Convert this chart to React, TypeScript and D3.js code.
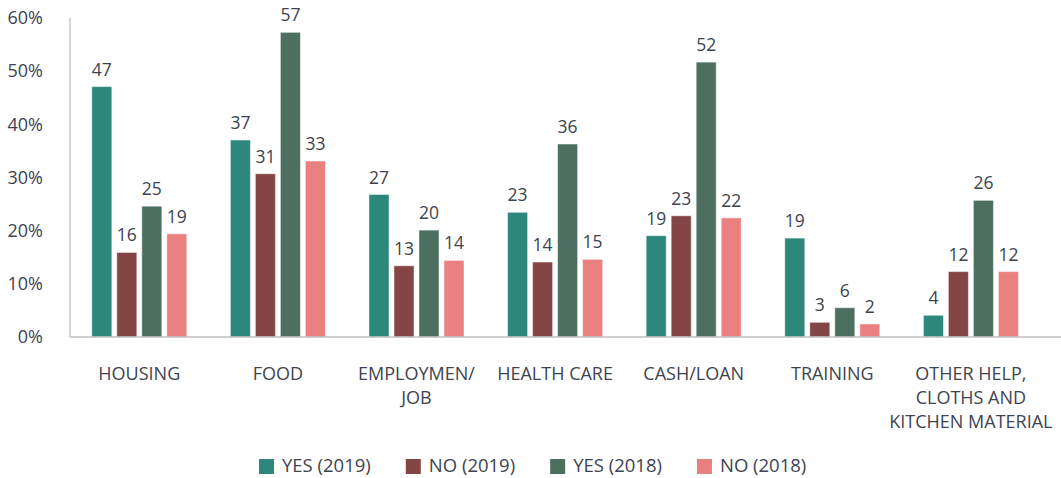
import React, { useEffect, useRef } from "react";
import * as d3 from "d3";

const categories = ["HOUSING", "FOOD", "EMPLOYMEN/ JOB", "HEALTH CARE", "CASH/LOAN", "TRAINING", "OTHER HELP, CLOTHS AND KITCHEN MATERIAL"];
const categoryLines = [["HOUSING"], ["FOOD"], ["EMPLOYMEN/", "JOB"], ["HEALTH CARE"], ["CASH/LOAN"], ["TRAINING"], ["OTHER HELP,", "CLOTHS AND", "KITCHEN MATERIAL"]];
const seriesNames = ["YES (2019)", "NO (2019)", "YES (2018)", "NO (2018)"];
const yes2019 = [47.1, 37.05, 26.8, 23.45, 19.05, 18.6, 4.08];
const no2019 = [15.9, 30.7, 13.4, 14.1, 22.8, 2.76, 12.3];
const yes2018 = [24.6, 57.3, 20.1, 36.3, 51.7, 5.5, 25.7];
const no2018 = [19.4, 33.1, 14.4, 14.6, 22.4, 2.45, 12.3];
const yTicks = [0, 10, 20, 30, 40, 50, 60];

const colors = ["#2D877A", "#844545", "#4D6F60", "#EB8080"];
const textColor = "#3E4350";
const axisColor = "#BFBFBF";
const FONT = "'Open Sans', sans-serif";

export default function App() {
  const ref = useRef<SVGSVGElement>(null);
  useEffect(() => {
    const svg = d3.select(ref.current);
    svg.selectAll("*").remove();
    const W = 1061;
    const left = 70, bandStep = 138.6;
    const x = d3.scaleBand<string>().domain(categories).range([left, left + bandStep * categories.length]).paddingInner(0).paddingOuter(0);
    const y = d3.scaleLinear().domain([0, 60]).range([337, 18]);
    const inner = d3.scaleBand<string>().domain(seriesNames).range([0, 100]).paddingInner(0.2).paddingOuter(0.1);
    const series = [yes2019, no2019, yes2018, no2018];

    const g = svg.append("g").attr("font-family", FONT);

    g.selectAll("text.ytick").data(yTicks).enter().append("text")
      .attr("class", "ytick")
      .attr("x", 43).attr("y", (d) => y(d))
      .attr("dy", "0.35em")
      .attr("text-anchor", "end")
      .attr("font-size", 18)
      .attr("fill", textColor)
      .text((d) => `${d}%`);

    series.forEach((vals, si) => {
      const sg = g.append("g");
      sg.selectAll("rect").data(vals).enter().append("rect")
        .attr("x", (d, i) => x(categories[i])! + x.bandwidth() / 2 - 50 + inner(seriesNames[si])!)
        .attr("y", (d) => y(d))
        .attr("width", inner.bandwidth())
        .attr("height", (d) => y(0) - y(d))
        .attr("fill", colors[si])
        .attr("stroke", "#ffffff")
        .attr("stroke-opacity", 0.45)
        .attr("stroke-width", 1);
      sg.selectAll("text").data(vals).enter().append("text")
        .attr("x", (d, i) => x(categories[i])! + x.bandwidth() / 2 - 50 + inner(seriesNames[si])! + inner.bandwidth() / 2)
        .attr("y", (d) => y(d) - 11)
        .attr("text-anchor", "middle")
        .attr("font-size", 17.5)
        .attr("fill", textColor)
        .text((d) => Math.round(d));
    });

    g.append("line").attr("x1", left).attr("x2", left).attr("y1", y(60)).attr("y2", y(0))
      .attr("stroke", axisColor).attr("stroke-width", 1.3);
    g.append("line").attr("x1", left).attr("x2", W).attr("y1", y(0)).attr("y2", y(0))
      .attr("stroke", axisColor).attr("stroke-width", 1.3);

    categories.forEach((c, i) => {
      const t = g.append("text")
        .attr("text-anchor", "middle")
        .attr("font-size", 18)
        .attr("fill", textColor);
      categoryLines[i].forEach((line, li) => {
        t.append("tspan").attr("x", x(c)! + x.bandwidth() / 2).attr("y", 380 + li * 24).text(line);
      });
    });

    const lg = g.append("g");
    let cx = 259;
    seriesNames.forEach((name, si) => {
      lg.append("rect").attr("x", cx).attr("y", 459).attr("width", 15).attr("height", 15).attr("fill", colors[si]);
      const t = lg.append("text").attr("x", cx + 23).attr("y", 472)
        .attr("font-size", 18.5).attr("fill", textColor).text(name);
      const w = (t.node() as SVGTextElement).getComputedTextLength();
      cx += 23 + w + 35;
    });
  }, []);
  return (
    <svg ref={ref} width={1061} height={478} style={{ position: "absolute", left: 0, top: 0, background: "#fff" }} />
  );
}
